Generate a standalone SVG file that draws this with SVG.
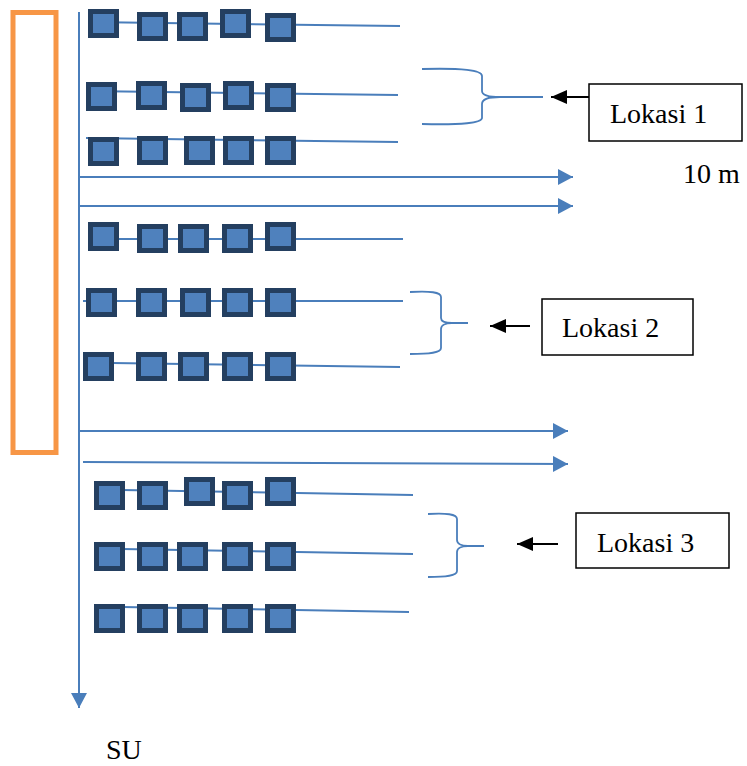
<svg xmlns="http://www.w3.org/2000/svg" width="747" height="766" viewBox="0 0 747 766">
<style>
.sq{fill:#4F81BD;stroke:#243F60;stroke-width:5}
.bl{stroke:#4A7EBB;stroke-width:2;fill:none}
.br{stroke:#4A7EBB;stroke-width:1.8;fill:none}
.box{fill:#fff;stroke:#000;stroke-width:1.5}
.ar{stroke:#000;stroke-width:2;fill:none}
</style>
<defs>
<marker id="ab" markerUnits="userSpaceOnUse" markerWidth="16" markerHeight="16" refX="15" refY="8" orient="auto">
<path d="M0,0 L15,8 L0,16 Z" fill="#4A7EBB"/>
</marker>
<marker id="ak" markerUnits="userSpaceOnUse" markerWidth="17" markerHeight="14" refX="16" refY="7" orient="auto">
<path d="M0,0 L16,7 L0,14 Z" fill="#000"/>
</marker>
</defs>
<g id="orange-frame"><rect x="13" y="12.5" width="43" height="440" fill="none" stroke="#F79646" stroke-width="5"/></g>
<g id="connectors">
<line class="bl" x1="79" y1="12" x2="79" y2="708" marker-end="url(#ab)"/>
<line class="bl" x1="79" y1="177" x2="573" y2="177" marker-end="url(#ab)"/>
<line class="bl" x1="79" y1="206" x2="573" y2="206" marker-end="url(#ab)"/>
<line class="bl" x1="79" y1="431" x2="568" y2="431" marker-end="url(#ab)"/>
<line class="bl" x1="83" y1="462" x2="568" y2="464" marker-end="url(#ab)"/>
<line class="ar" x1="591" y1="97" x2="551" y2="97" marker-end="url(#ak)"/>
<line class="ar" x1="530" y1="326" x2="490" y2="326" marker-end="url(#ak)"/>
<line class="ar" x1="558" y1="544" x2="517" y2="544" marker-end="url(#ak)"/>
</g>
<g id="row1">
<line class="bl" x1="88" y1="22" x2="400" y2="26"/>
<rect class="sq" x="90.5" y="11.5" width="26" height="24"/>
<rect class="sq" x="139.5" y="14.5" width="26" height="24"/>
<rect class="sq" x="179.5" y="14.5" width="26" height="24"/>
<rect class="sq" x="222.5" y="11.5" width="26" height="24"/>
<rect class="sq" x="267.5" y="15.5" width="26" height="24"/>
</g>
<g id="row2">
<line class="bl" x1="86" y1="91" x2="398" y2="95"/>
<rect class="sq" x="88.5" y="84.5" width="26" height="24"/>
<rect class="sq" x="138.5" y="83.5" width="26" height="24"/>
<rect class="sq" x="182.5" y="85.5" width="26" height="24"/>
<rect class="sq" x="225.5" y="83.5" width="26" height="24"/>
<rect class="sq" x="267.5" y="85.5" width="26" height="24"/>
</g>
<g id="row3">
<line class="bl" x1="86" y1="138" x2="398" y2="142"/>
<rect class="sq" x="90.5" y="139.5" width="26" height="24"/>
<rect class="sq" x="139.5" y="138.5" width="26" height="24"/>
<rect class="sq" x="186.5" y="138.5" width="26" height="24"/>
<rect class="sq" x="225.5" y="138.5" width="26" height="24"/>
<rect class="sq" x="267.5" y="138.5" width="26" height="24"/>
</g>
<g id="row4">
<line class="bl" x1="118" y1="239" x2="403" y2="239"/>
<rect class="sq" x="90.5" y="224.5" width="26" height="24"/>
<rect class="sq" x="139.5" y="226.5" width="26" height="24"/>
<rect class="sq" x="180.5" y="226.5" width="26" height="24"/>
<rect class="sq" x="224.5" y="226.5" width="26" height="24"/>
<rect class="sq" x="267.5" y="224.5" width="26" height="24"/>
</g>
<g id="row5">
<line class="bl" x1="83" y1="301" x2="403" y2="301"/>
<rect class="sq" x="88.5" y="290.5" width="26" height="24"/>
<rect class="sq" x="138.5" y="290.5" width="26" height="24"/>
<rect class="sq" x="182.5" y="290.5" width="26" height="24"/>
<rect class="sq" x="224.5" y="290.5" width="26" height="24"/>
<rect class="sq" x="267.5" y="290.5" width="26" height="24"/>
</g>
<g id="row6">
<line class="bl" x1="112" y1="363" x2="400" y2="367"/>
<rect class="sq" x="85.5" y="354.5" width="26" height="24"/>
<rect class="sq" x="138.5" y="354.5" width="26" height="24"/>
<rect class="sq" x="180.5" y="354.5" width="26" height="24"/>
<rect class="sq" x="224.5" y="354.5" width="26" height="24"/>
<rect class="sq" x="267.5" y="354.5" width="26" height="24"/>
</g>
<g id="row7">
<line class="bl" x1="122" y1="490" x2="413" y2="495"/>
<rect class="sq" x="96.5" y="483.5" width="26" height="24"/>
<rect class="sq" x="139.5" y="483.5" width="26" height="24"/>
<rect class="sq" x="186.5" y="479.5" width="26" height="24"/>
<rect class="sq" x="224.5" y="483.5" width="26" height="24"/>
<rect class="sq" x="267.5" y="479.5" width="26" height="24"/>
</g>
<g id="row8">
<line class="bl" x1="122" y1="549" x2="413" y2="554"/>
<rect class="sq" x="96.5" y="544.5" width="26" height="24"/>
<rect class="sq" x="139.5" y="544.5" width="26" height="24"/>
<rect class="sq" x="179.5" y="544.5" width="26" height="24"/>
<rect class="sq" x="224.5" y="544.5" width="26" height="24"/>
<rect class="sq" x="267.5" y="544.5" width="26" height="24"/>
</g>
<g id="row9">
<line class="bl" x1="122" y1="607" x2="409" y2="612"/>
<rect class="sq" x="96.5" y="606.5" width="26" height="24"/>
<rect class="sq" x="139.5" y="606.5" width="26" height="24"/>
<rect class="sq" x="179.5" y="606.5" width="26" height="24"/>
<rect class="sq" x="224.5" y="606.5" width="26" height="24"/>
<rect class="sq" x="267.5" y="606.5" width="26" height="24"/>
</g>
<g id="brace1"><path class="br" d="M422,69 C462,68 482,70 482,76 L482,91 C482,95 488,97 500,97 L543,97 M500,97 C488,97 482,99 482,104 L482,118 C482,123 462,125 422,124"/></g>
<g id="brace2"><path class="br" d="M410,292 C430,291 441,292 441,297 L441,318 C441,322 446,323 452,323 L468,323 M452,323 C446,323 441,325 441,329 L441,348 C441,353 430,354 410,354"/></g>
<g id="brace3"><path class="br" d="M428,514 C446,513 457,514 457,519 L457,540 C457,544 462,546 468,546 L484,546 M468,546 C462,546 457,548 457,552 L457,571 C457,576 446,577 428,577"/></g>
<g font-family="Liberation Serif, Times New Roman, DejaVu Serif, serif" font-size="28" fill="#000">
<g id="lokasi1"><rect class="box" x="589" y="84" width="153" height="57"/><text x="610" y="123">Lokasi 1</text></g>
<g id="lokasi2"><rect class="box" x="542" y="299" width="151" height="56"/><text x="562" y="337">Lokasi 2</text></g>
<g id="lokasi3"><rect class="box" x="576" y="513" width="153" height="55"/><text x="597" y="552">Lokasi 3</text></g>
<g id="label-10m"><text x="683" y="183">10 m</text></g>
<g id="label-su"><text x="106" y="759">SU</text></g>
</g>
</svg>
